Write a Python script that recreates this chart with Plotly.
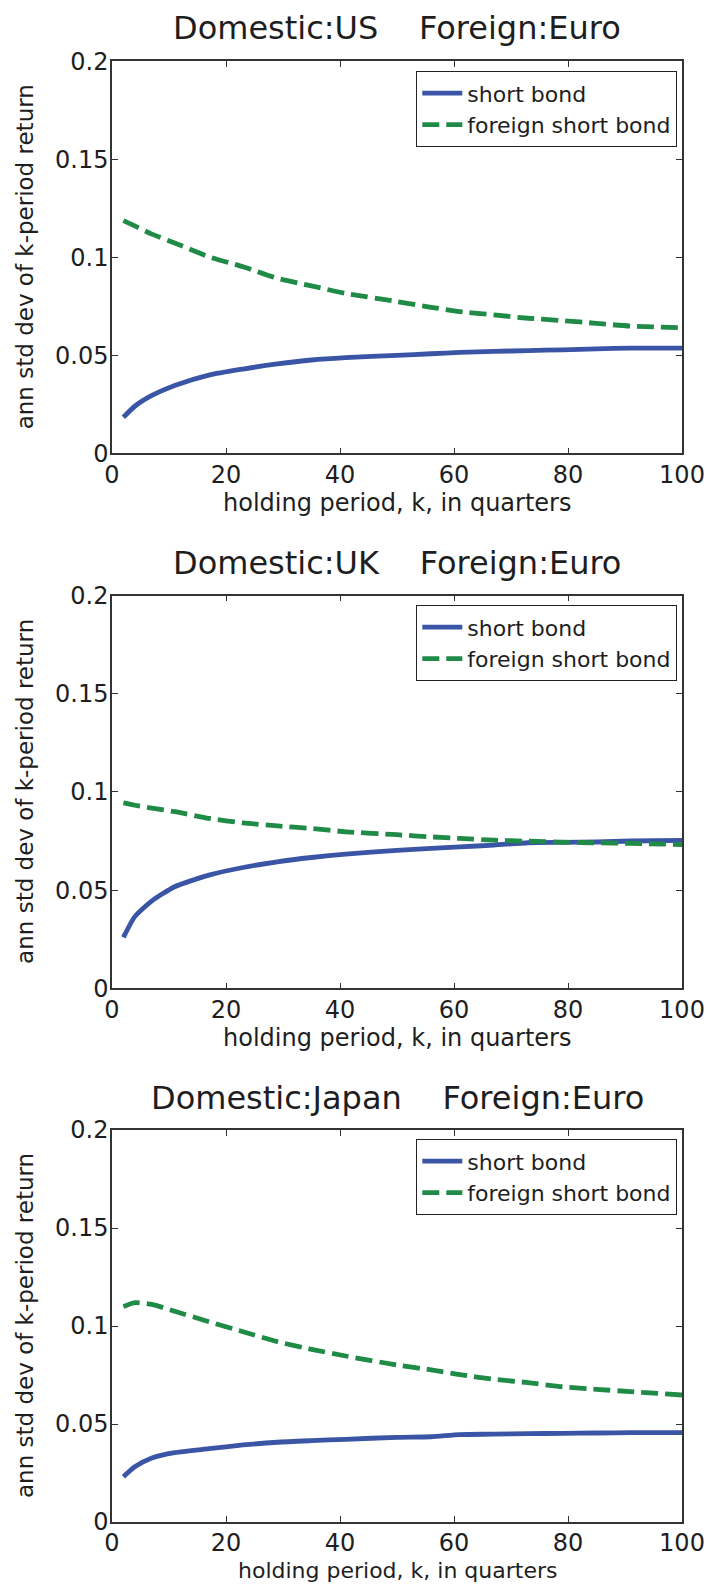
import plotly.graph_objects as go

W, H = 709, 1584

k = [2, 4, 7, 11, 17, 23, 29, 35, 41, 50, 56, 61, 67, 73, 79, 85, 91, 100]

titles = ["Domestic:US    Foreign:Euro",
          "Domestic:UK    Foreign:Euro",
          "Domestic:Japan    Foreign:Euro"]

us_short = [0.0184, 0.0240, 0.0295, 0.0346, 0.0399, 0.0430, 0.0456, 0.0476, 0.0488,
            0.0500, 0.0508, 0.0515, 0.0520, 0.0524, 0.0528, 0.0533, 0.0537, 0.0537]
us_foreign = [0.1187, 0.1160, 0.1118, 0.1073, 0.1003, 0.0952, 0.0893, 0.0854, 0.0816,
              0.0774, 0.0745, 0.0723, 0.0706, 0.0689, 0.0677, 0.0663, 0.0649, 0.0641]

uk_short = [0.0259, 0.0365, 0.0445, 0.0517, 0.0576, 0.0615, 0.0644, 0.0666, 0.0683,
            0.0702, 0.0712, 0.0720, 0.0729, 0.0741, 0.0743, 0.0745, 0.0750, 0.0753]
uk_foreign = [0.0944, 0.0932, 0.0917, 0.0899, 0.0865, 0.0842, 0.0827, 0.0814, 0.0797,
              0.0782, 0.0771, 0.0763, 0.0754, 0.0749, 0.0744, 0.0741, 0.0738, 0.0732]

jp_short = [0.0231, 0.0282, 0.0327, 0.0354, 0.0374, 0.0393, 0.0407, 0.0415, 0.0422,
            0.0432, 0.0435, 0.0446, 0.0448, 0.0451, 0.0452, 0.0454, 0.0456, 0.0456]
jp_foreign = [0.1099, 0.1119, 0.1110, 0.1075, 0.1022, 0.0971, 0.0920, 0.0881, 0.0847,
              0.0801, 0.0776, 0.0752, 0.0728, 0.0711, 0.0690, 0.0677, 0.0665, 0.0648]

series_names = ["short bond", "foreign short bond"]
x_ticks = [0, 20, 40, 60, 80, 100]
y_ticks = [0, 0.05, 0.1, 0.15, 0.2]
y_ticklabels = ["0", "0.05", "0.1", "0.15", "0.2"]
x_title = "holding period, k, in quarters"
y_title = "ann std dev of k-period return"

panels = [(us_short, us_foreign), (uk_short, uk_foreign), (jp_short, jp_foreign)]

BLUE = "#3A54A6"
GREEN = "#1F8B46"
FONT = "DejaVu Sans, Verdana, sans-serif"
TXT = "#1e1e1e"

# plot-area pixel boxes (left, right, top, bottom)
x_left, x_right = 112.0, 682.0
boxes_y = [(61.3, 453.3), (595.5, 988.3), (1130.0, 1522.0)]
title_y = [28, 563, 1098]
xtitle_y = [503, 1038, 1570]
xtitle_size = [24, 24, 22]
xtick_standoff = [-1, -1, -2]
legend_top = [71, 605, 1139]

def px(xp):
    return xp / W

def py(yp):
    return 1 - yp / H

fig = go.Figure()
layout = dict(width=W, height=H, autosize=False,
              margin=dict(l=0, r=0, t=0, b=0, pad=0, autoexpand=False),
              paper_bgcolor="white", plot_bgcolor="white",
              font=dict(family=FONT, color=TXT),
              annotations=[])

for i, (short, foreign) in enumerate(panels):
    xa = "x" if i == 0 else f"x{i+1}"
    ya = "y" if i == 0 else f"y{i+1}"
    lg = "legend" if i == 0 else f"legend{i+1}"
    fig.add_trace(go.Scatter(x=k, y=short, mode="lines", name=series_names[0],
                             line=dict(color=BLUE, width=4.8, shape="spline", smoothing=0.6),
                             xaxis=xa, yaxis=ya, legend=lg))
    fig.add_trace(go.Scatter(x=k, y=foreign, mode="lines", name=series_names[1],
                             line=dict(color=GREEN, width=4.8, dash="17px,7px",
                                       shape="spline", smoothing=0.6),
                             xaxis=xa, yaxis=ya, legend=lg))
    top, bot = boxes_y[i]
    axis_common = dict(showline=True, linecolor="#333333", linewidth=1.5, mirror="ticks",
                       ticks="inside", ticklen=6, tickcolor="#333333", tickwidth=1.2,
                       showgrid=False, zeroline=False, automargin=False,
                       tickfont=dict(family=FONT, size=24, color=TXT))
    xkey = "xaxis" if i == 0 else f"xaxis{i+1}"
    ykey = "yaxis" if i == 0 else f"yaxis{i+1}"
    layout[xkey] = dict(axis_common, domain=[px(x_left), px(x_right)], range=[0, 100],
                        tickvals=x_ticks, anchor=ya, ticklabelstandoff=xtick_standoff[i])
    layout[ykey] = dict(axis_common, domain=[py(bot), py(top)], range=[0, 0.2],
                        tickvals=y_ticks, ticktext=y_ticklabels, anchor=xa,
                        ticklabelstandoff=-3)
    layout[lg] = dict(x=px(677), y=py(legend_top[i]), xanchor="right", yanchor="top",
                      bgcolor="white", bordercolor="#222222", borderwidth=1.3,
                      font=dict(family=FONT, size=22, color=TXT),
                      tracegroupgap=0, itemwidth=40)
    cx = (x_left + x_right) / 2
    layout["annotations"].append(dict(text=titles[i], x=px(cx), y=py(title_y[i]),
                                      xref="paper", yref="paper", xanchor="center", yanchor="middle",
                                      showarrow=False, font=dict(family=FONT, size=32, color=TXT)))
    layout["annotations"].append(dict(text=x_title, x=px(cx), y=py(xtitle_y[i]),
                                      xref="paper", yref="paper", xanchor="center", yanchor="middle",
                                      showarrow=False,
                                      font=dict(family=FONT, size=xtitle_size[i], color=TXT)))
    layout["annotations"].append(dict(text=y_title, x=px(25), y=py((top + bot) / 2),
                                      xref="paper", yref="paper", xanchor="center", yanchor="middle",
                                      textangle=-90, showarrow=False,
                                      font=dict(family=FONT, size=23, color=TXT)))

fig.update_layout(**layout)
fig.write_html("out.html", config={"displayModeBar": False},
               post_script="document.body.style.margin='0';document.body.style.overflow='hidden';")
